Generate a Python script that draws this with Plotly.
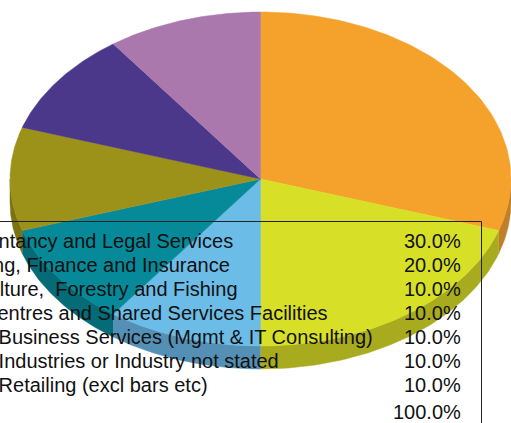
import numpy as np
import plotly.graph_objects as go

categories = [
    "Accountancy and Legal Services",
    "Banking, Finance and Insurance",
    "Agriculture,  Forestry and Fishing",
    "Call Centres and Shared Services Facilities",
    "Other Business Services (Mgmt & IT Consulting)",
    "Other Industries or Industry not stated",
    "Other Retailing (excl bars etc)",
]
shares = [30.0, 20.0, 10.0, 10.0, 10.0, 10.0, 10.0]
total_label = "100.0%"

top_colors = ["#F5A22D", "#D7E027", "#6CBCE8", "#068A99", "#9C921A", "#4C388B", "#AB78AE"]
side_colors = ["#BF8029", "#A8AB1D", "#5490B5", "#046B77", "#7A7213", "#3A2B6B", "#85608A"]

W, H = 511, 423
CX, CY, RX, RY, DEPTH = 260.5, 179, 250.5, 167, 23


def rim(a0, a1, dy=0):
    t = np.radians(np.linspace(a0, a1, 90))
    return CX + RX * np.sin(t), CY - RY * np.cos(t) + dy


fig = go.Figure()

# angles run clockwise from 12 o'clock
edges = np.cumsum([0] + shares) * 3.6

# the side wall first, only the front half of the rim shows
for i in range(len(shares)):
    a0, a1 = max(edges[i], 90), min(edges[i + 1], 270)
    if a0 >= a1:
        continue
    x1, y1 = rim(a0, a1)
    x2, y2 = rim(a1, a0, DEPTH)
    fig.add_trace(go.Scatter(
        x=np.r_[x1, x2], y=np.r_[y1, y2], mode="lines", fill="toself",
        fillcolor=side_colors[i], line=dict(width=0.5, color=side_colors[i]),
        hoverinfo="skip", showlegend=False,
    ))

for i in range(len(shares)):
    x1, y1 = rim(edges[i], edges[i + 1])
    fig.add_trace(go.Scatter(
        x=np.r_[CX, x1, CX], y=np.r_[CY, y1, CY], mode="lines", fill="toself",
        fillcolor=top_colors[i], line=dict(width=0.5, color=top_colors[i]),
        hoverinfo="skip", showlegend=False,
    ))

# table box sits over the pie, left and bottom run off the picture
fig.add_shape(type="rect", x0=-10, x1=481.5, y0=221.5, y1=440,
              line=dict(color="#222222", width=1), layer="above")

row_y = [241, 265, 289, 313, 337, 361, 385]
font = dict(family="Liberation Sans, Arial, sans-serif", size=20, color="#111111")
for name, share, y in zip(categories, shares, row_y):
    fig.add_annotation(x=-59 / W, y=1 - y / H, xref="paper", yref="paper", text=name,
                       showarrow=False, xanchor="left", yanchor="middle", font=font)
    fig.add_annotation(x=463 / W, y=1 - y / H, xref="paper", yref="paper", text=f"{share:.1f}%",
                       showarrow=False, xanchor="right", yanchor="middle", font=font)
fig.add_annotation(x=463 / W, y=1 - 411.5 / H, xref="paper", yref="paper", text=total_label,
                   showarrow=False, xanchor="right", yanchor="middle", font=font)

fig.update_layout(
    width=W, height=H,
    margin=dict(l=0, r=0, t=0, b=0),
    paper_bgcolor="white", plot_bgcolor="white",
    showlegend=False,
    xaxis=dict(range=[0, W], visible=False, fixedrange=True),
    yaxis=dict(range=[H, 0], visible=False, fixedrange=True),
)

fig.write_html("out.html", config=dict(displayModeBar=False),
               post_script="document.body.style.margin='0';document.body.style.overflow='hidden';")
